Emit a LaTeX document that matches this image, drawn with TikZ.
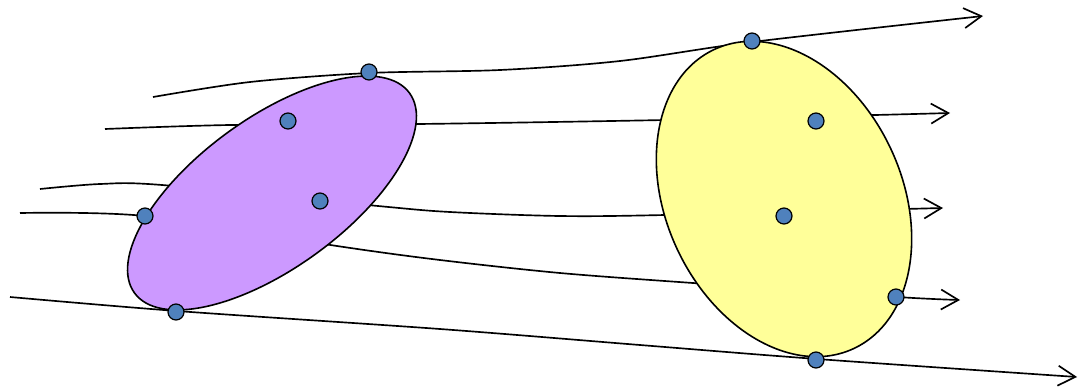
\documentclass[tikz,border=0pt]{standalone}
\usepackage{tikz}
\usetikzlibrary{arrows.meta}
\definecolor{lilac}{HTML}{CC99FF}
\definecolor{paleyellow}{HTML}{FFFF99}
\definecolor{sampleblue}{HTML}{4F81BD}

\begin{document}
\begin{tikzpicture}[x=0.75pt,y=-0.75pt,
    stream/.style={line width=1.25pt,-{Straight Barb[length=13pt,width=15pt]}},
    region/.style={draw,line width=1.2pt},
    sample/.style={circle,draw,fill=sampleblue,line width=0.9pt,inner sep=0pt,minimum size=12pt}]
    \useasboundingbox (0,0) rectangle (1082,386);
    % streamlines
    \draw[stream] plot[smooth] coordinates {(153,97) (250,82) (369,73) (500,70) (620,61) (752,42) (983,16)};
    \draw[stream] plot[smooth] coordinates {(105,129) (230,125) (418,124) (665,120) (875,115) (950,113)};
    \draw[stream] plot[smooth] coordinates {(40,189) (100,184) (162,185) (378,206) (450,212) (560,216) (665,215) (943,208)};
    \draw[stream] plot[smooth] coordinates {(20,213) (145,216) (337,246) (440,260) (560,273) (693,283) (897,297) (960,300)};
    \draw[stream] plot[smooth] coordinates {(10,297) (177,311) (440,329) (640,345) (817,359) (1077,377)};
    % the two regions
    \draw[region,fill=lilac,rotate around={36:(272,193)}] (272,193) ellipse [x radius=170,y radius=75];
    \draw[region,fill=paleyellow,rotate around={25:(784,199)}] (784,199) ellipse [x radius=118,y radius=165];
    % samples
    \foreach \x/\y/\n in {369/72/p1,288/121/p2,320/201/p3,145/216/p4,176/312/p5,
                          752/41/q1,816/121/q2,784/216/q3,896/297/q4,816/360/q5}
        {\node[sample] (\n) at (\x,\y) {};}
\end{tikzpicture}
\end{document}
